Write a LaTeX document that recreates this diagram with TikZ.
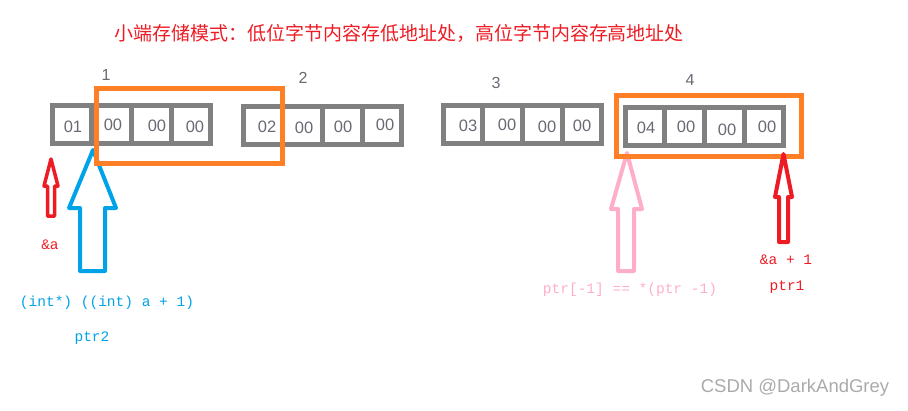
\documentclass[tikz,border=0pt]{standalone}
\usepackage{fontspec}
\setmainfont{Liberation Sans}
\setmonofont{Liberation Mono}
\newfontfamily\cjk{Noto Sans CJK SC}
\definecolor{boxgray}{RGB}{128,128,128}
\definecolor{numgray}{RGB}{105,105,115}
\definecolor{boxorange}{RGB}{255,127,39}
\definecolor{pntred}{RGB}{237,28,36}
\definecolor{pntcyan}{RGB}{0,162,232}
\definecolor{pntpink}{RGB}{255,174,201}
\definecolor{wmgray}{RGB}{170,170,170}
\begin{document}
\begin{tikzpicture}[x=1pt,y=-1pt,
    bytebox/.style={draw=boxgray,line width=5pt},
    wordbox/.style={draw=boxorange,line width=5pt},
    cellnum/.style={text=numgray,inner sep=0pt,font=\fontsize{16.5}{16.5}\selectfont},
    grpnum/.style={text=numgray,inner sep=0pt,font=\fontsize{16}{16}\selectfont},
    codelbl/.style={inner sep=0pt,font=\ttfamily\fontsize{14.5}{14.5}\selectfont},
    blockarrow/.style={line width=4pt,line join=round}]
    \useasboundingbox (0,0) rectangle (908,410);
    \node[text=pntred,inner sep=0pt,font=\cjk\fontsize{19}{19}\selectfont] (title) at (399,33) {小端存储模式：低位字节内容存低地址处，高位字节内容存高地址处};
    \foreach \x/\y in {50/103,241/104,441/103,623/105} {
        \draw[bytebox] (\x+2.5,\y+2.5) rectangle (\x+160.5,\y+40.5);
        \foreach \d in {41.5,81,121} \draw[bytebox] (\x+\d,\y) -- (\x+\d,\y+43);
    }
    \foreach \t/\x/\y/\n in {01/73/127/c11,00/113/125/c12,00/157/126/c13,00/195/127/c14,
        02/267/127/c21,00/304/128/c22,00/343/127/c23,00/385/125/c24,
        03/468/126/c31,00/507/125/c32,00/547/127/c33,00/582/126/c34,
        04/646/128/c41,00/686/127/c42,00/727/130/c43,00/767/127/c44}
        \node[cellnum] (\n) at (\x,\y) {\t};
    \node[grpnum] (g1) at (106,75) {1};
    \node[grpnum] (g2) at (303,78) {2};
    \node[grpnum] (g3) at (496,83) {3};
    \node[grpnum] (g4) at (690,80) {4};
    \draw[blockarrow,pntcyan] (93,150) -- (116,208) -- (105,208) -- (105,271) -- (80,271) -- (80,208) -- (69,208) -- cycle;
    \draw[blockarrow,pntpink] (627,153) -- (642,209) -- (634,209) -- (634,271) -- (618,271) -- (618,209) -- (611,209) -- cycle;
    \draw[wordbox] (96,88.5) rectangle (282.5,163.5);
    \draw[wordbox] (616.5,95.5) rectangle (801.5,156.5);
    \draw[blockarrow,pntred,line width=3.5pt] (51,159) -- (58,186) -- (54.5,186) -- (54.5,216) -- (47.5,216) -- (47.5,186) -- (44,186) -- cycle;
    \draw[blockarrow,pntred] (783.5,154) -- (792,197) -- (788,197) -- (788,242) -- (779,242) -- (779,197) -- (775,197) -- cycle;
    \node[codelbl,text=pntred] (addra) at (50,245) {\&a};
    \node[codelbl,text=pntcyan] (castexpr) at (107,303) {(int*) ((int) a + 1)};
    \node[codelbl,text=pntcyan] (ptrtwo) at (92,338) {ptr2};
    \node[codelbl,text=pntpink] (negidx) at (630,290) {ptr[-1] == *(ptr -1)};
    \node[codelbl,text=pntred] (addrap) at (786,260) {\&a + 1};
    \node[codelbl,text=pntred] (ptrone) at (787,287) {ptr1};
    \node[text=wmgray,inner sep=0pt,font=\fontsize{18.5}{18.5}\selectfont] (wmark) at (795,388) {CSDN @DarkAndGrey};
\end{tikzpicture}
\end{document}
